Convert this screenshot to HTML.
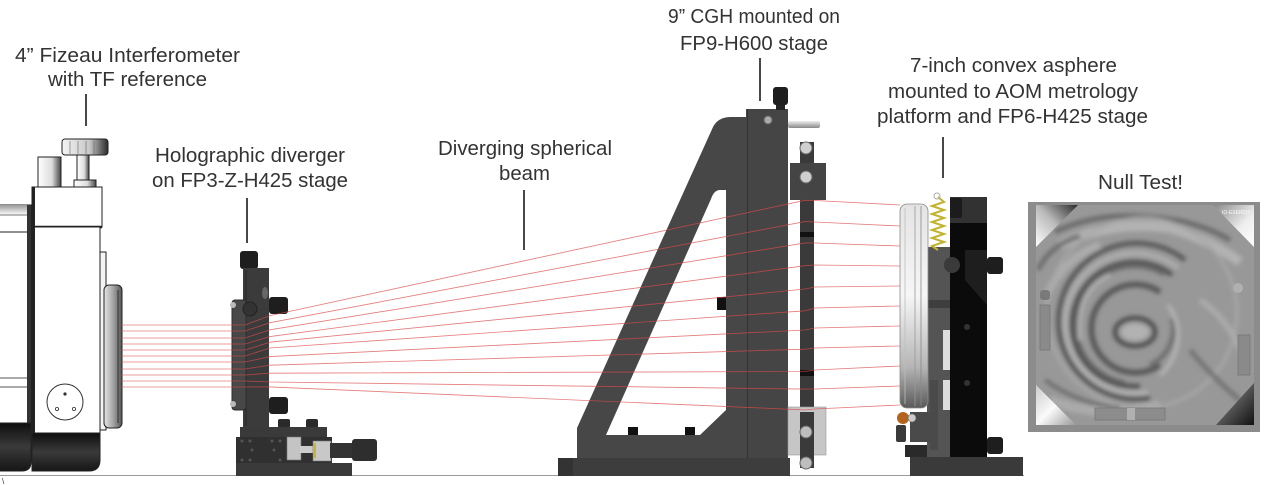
<!DOCTYPE html>
<html><head><meta charset="utf-8">
<style>
html,body{margin:0;padding:0;background:#fff;}
svg{display:block;}
text{font-family:"Liberation Sans",sans-serif;fill:#333;font-size:20.5px;}
</style></head><body>
<svg width="1268" height="485" viewBox="0 0 1268 485" xmlns="http://www.w3.org/2000/svg">
<defs>
<linearGradient id="gKnob" x1="0" y1="0" x2="1" y2="0"><stop offset="0" stop-color="#f4f4f4"/><stop offset="0.6" stop-color="#c8c8c8"/><stop offset="1" stop-color="#2a2a2a"/></linearGradient>
<linearGradient id="gCyl" x1="0" y1="0" x2="1" y2="0"><stop offset="0" stop-color="#fff"/><stop offset="0.6" stop-color="#ddd"/><stop offset="1" stop-color="#444"/></linearGradient>
<linearGradient id="gDarkBot" x1="0" y1="0" x2="0" y2="1"><stop offset="0" stop-color="#0e0e0e"/><stop offset="0.5" stop-color="#3a3a3a"/><stop offset="1" stop-color="#161616"/></linearGradient>
<linearGradient id="gRing" x1="0" y1="0" x2="1" y2="0"><stop offset="0" stop-color="#e6e6e6"/><stop offset="0.5" stop-color="#a5a5a5"/><stop offset="1" stop-color="#555"/></linearGradient>
<linearGradient id="gLeftTop" x1="0" y1="0" x2="0" y2="1"><stop offset="0" stop-color="#999"/><stop offset="1" stop-color="#fff"/></linearGradient>
<linearGradient id="gLens" x1="0" y1="0" x2="0" y2="1"><stop offset="0" stop-color="#e4e4e4"/><stop offset="0.45" stop-color="#f6f6f6"/><stop offset="0.8" stop-color="#b5b5b5"/><stop offset="1" stop-color="#5a5a5a"/></linearGradient>
<linearGradient id="gPin" x1="0" y1="0" x2="0" y2="1"><stop offset="0" stop-color="#eee"/><stop offset="1" stop-color="#888"/></linearGradient>
<linearGradient id="gTL" x1="0" y1="1" x2="1" y2="0"><stop offset="0" stop-color="#fff"/><stop offset="0.5" stop-color="#bbb"/><stop offset="1" stop-color="#2a2a2a"/></linearGradient>
<linearGradient id="gTR" x1="0" y1="0" x2="1" y2="1"><stop offset="0" stop-color="#888"/><stop offset="0.6" stop-color="#eee"/><stop offset="1" stop-color="#fff"/></linearGradient>
<linearGradient id="gBL" x1="0" y1="0" x2="1" y2="1"><stop offset="0" stop-color="#ccc"/><stop offset="0.5" stop-color="#fafafa"/><stop offset="1" stop-color="#999"/></linearGradient>
<linearGradient id="gBR" x1="0" y1="0" x2="1" y2="1"><stop offset="0" stop-color="#eee"/><stop offset="0.5" stop-color="#555"/><stop offset="1" stop-color="#111"/></linearGradient>
<filter id="blur2" x="-10%" y="-10%" width="120%" height="120%"><feGaussianBlur stdDeviation="2"/></filter>
<clipPath id="octClip"><polygon points="1036,205 1254,205 1254,425 1036,425"/></clipPath>
</defs>

<!-- ground line -->
<line x1="0" y1="475.5" x2="1024" y2="475.5" stroke="#9a9a9a" stroke-width="1"/>
<text x="2" y="484" style="font-size:8px">\</text>

<!-- ===== Labels ===== -->
<text x="15" y="62" textLength="225" lengthAdjust="spacingAndGlyphs">4” Fizeau Interferometer</text>
<text x="48" y="86" textLength="159" lengthAdjust="spacingAndGlyphs">with TF reference</text>
<text x="155" y="162" textLength="190" lengthAdjust="spacingAndGlyphs">Holographic diverger</text>
<text x="152" y="187" textLength="196" lengthAdjust="spacingAndGlyphs">on FP3-Z-H425 stage</text>
<text x="438" y="155" textLength="174" lengthAdjust="spacingAndGlyphs">Diverging spherical</text>
<text x="499" y="180" textLength="51" lengthAdjust="spacingAndGlyphs">beam</text>
<text x="668" y="23" textLength="172" lengthAdjust="spacingAndGlyphs">9” CGH mounted on</text>
<text x="680" y="50" textLength="148" lengthAdjust="spacingAndGlyphs">FP9-H600 stage</text>
<text x="910" y="72" textLength="207" lengthAdjust="spacingAndGlyphs">7-inch convex asphere</text>
<text x="888" y="98" textLength="250" lengthAdjust="spacingAndGlyphs">mounted to AOM metrology</text>
<text x="877" y="123" textLength="271" lengthAdjust="spacingAndGlyphs">platform and FP6-H425 stage</text>
<text x="1098" y="189" textLength="85" lengthAdjust="spacingAndGlyphs">Null Test!</text>

<!-- connectors -->
<g stroke="#1a1a1a" stroke-width="1.6">
<line x1="86" y1="94" x2="86" y2="126"/>
<line x1="247" y1="198" x2="247" y2="243"/>
<line x1="524" y1="190" x2="524" y2="250"/>
<line x1="760" y1="58" x2="760" y2="101"/>
<line x1="943" y1="137" x2="943" y2="178"/>
</g>

<!-- ===== Interferometer ===== -->
<g stroke="#222" stroke-width="1">
 <rect x="-2" y="205" width="33" height="230" fill="#fff"/>
 <rect x="-2" y="205" width="33" height="10" fill="url(#gLeftTop)" stroke="none"/>
 <line x1="0" y1="215" x2="30" y2="215" stroke="#777"/>
 <line x1="0" y1="232" x2="30" y2="232"/>
 <line x1="0" y1="378" x2="30" y2="378" stroke="#555"/>
 <line x1="0" y1="387" x2="30" y2="387" stroke="#555"/>
 <rect x="27" y="205" width="4" height="230" fill="#333" stroke="none"/>
 <path d="M-2 423 H31 V462 Q31 471 22 471 H-2 Z" fill="url(#gDarkBot)"/>
 <rect x="38" y="157" width="23" height="31" fill="url(#gCyl)"/>
 <rect x="77" y="155" width="12" height="25" fill="url(#gCyl)"/>
 <rect x="74" y="180" width="22" height="8" fill="url(#gCyl)"/>
 <rect x="62" y="139" width="46" height="16" rx="3" fill="url(#gKnob)"/>
 <g stroke="#666" stroke-width="0.6">
  <line x1="70" y1="141" x2="70" y2="154"/><line x1="78" y1="141" x2="78" y2="154"/><line x1="86" y1="141" x2="86" y2="154"/><line x1="94" y1="141" x2="94" y2="154"/><line x1="101" y1="141" x2="101" y2="154"/>
 </g>
 <rect x="32" y="187" width="70" height="40" fill="#fff"/>
 <line x1="32" y1="227" x2="102" y2="227" stroke-width="2.5"/>
 <rect x="32" y="227" width="68" height="206" fill="#fff"/>
 <rect x="32" y="187" width="3" height="246" fill="#222" stroke="none"/>
 <path d="M32 433 H100 V460 Q100 471 89 471 H32 Z" fill="url(#gDarkBot)"/>
 <rect x="100" y="252" width="6" height="178" fill="#f4f4f4"/>
 <rect x="104" y="285" width="18" height="143" rx="5" fill="url(#gRing)"/>
 <line x1="118" y1="290" x2="118" y2="423" stroke="#333" stroke-width="1"/>
 <circle cx="65" cy="402" r="18" fill="none" stroke="#333"/>
 <circle cx="65" cy="394" r="1.6" fill="#333" stroke="none"/>
 <circle cx="57" cy="409" r="1.6" fill="none" stroke="#333" stroke-width="0.8"/>
 <circle cx="74" cy="409" r="1.6" fill="none" stroke="#333" stroke-width="0.8"/>
</g>

<!-- ===== Holographic diverger ===== -->
<g>
 <rect x="240" y="251" width="18" height="18" rx="3" fill="#1e1e1e"/>
 <rect x="243" y="268" width="26" height="160" fill="#3b3b3b"/>
 <line x1="246" y1="270" x2="246" y2="426" stroke="#2a2a2a"/>
 <ellipse cx="265" cy="293" rx="3" ry="6" fill="#666"/>
 <rect x="232" y="300" width="14" height="110" rx="3" fill="#484848" stroke="#2e2e2e"/>
 <circle cx="233" cy="305" r="3" fill="#bbb"/>
 <circle cx="233" cy="404" r="3" fill="#bbb"/>
 <circle cx="250" cy="309" r="7" fill="#333" stroke="#222"/>
 <rect x="269" y="297" width="19" height="17" rx="3" fill="#1e1e1e"/>
 <rect x="269" y="397" width="19" height="17" rx="3" fill="#1e1e1e"/>
 <rect x="278" y="419" width="12" height="9" rx="2" fill="#2a2a2a"/>
 <rect x="306" y="419" width="12" height="9" rx="2" fill="#2a2a2a"/>
 <rect x="240" y="427" width="87" height="10" fill="#3a3a3a"/>
 <rect x="236" y="437" width="96" height="26" fill="#303030"/>
 <g fill="#555"><circle cx="242" cy="441" r="1.5"/><circle cx="250" cy="441" r="1.5"/><circle cx="272" cy="441" r="1.5"/><circle cx="280" cy="441" r="1.5"/><circle cx="252" cy="450" r="1.5"/><circle cx="274" cy="450" r="1.5"/><circle cx="242" cy="460" r="1.5"/><circle cx="250" cy="460" r="1.5"/><circle cx="280" cy="460" r="1.5"/></g>
 <rect x="287" y="437" width="14" height="23" fill="#c4c4c4" stroke="#777" stroke-width="0.6"/>
 <rect x="300" y="446" width="14" height="7" fill="#ccc"/>
 <rect x="313" y="441" width="18" height="20" fill="#c8c8c8" stroke="#777" stroke-width="0.6"/>
 <rect x="313" y="443" width="3" height="15" fill="#c9b13a"/>
 <rect x="330" y="443" width="28" height="15" fill="#333"/>
 <rect x="352" y="439" width="25" height="22" rx="3" fill="#2e2e2e"/>
 <rect x="236" y="463" width="116" height="13" fill="#3a3a3a"/>
</g>

<!-- ===== CGH stage ===== -->
<g>
 <rect x="558" y="458" width="232" height="18" fill="#3d3d3d"/>
 <rect x="558" y="458" width="15" height="18" fill="#333"/>
 <path d="M577 458 L577 428 L713 127 Q718 117 731 117 L747 117 L747 458 Z" fill="#474747"/>
 <path d="M606 435 L711 199 Q714 190 720 190 L726 190 L726 410 L700 435 Z" fill="#fff"/>
 <rect x="628" y="427" width="10" height="8" fill="#111"/>
 <rect x="685" y="427" width="10" height="8" fill="#111"/>
 <rect x="717" y="297" width="9" height="13" fill="#111"/>
 <rect x="746" y="109" width="42" height="349" fill="#454545"/>
 <line x1="747.5" y1="110" x2="747.5" y2="458" stroke="#333"/>
 <circle cx="768" cy="120" r="4" fill="#aaa" stroke="#666"/>
 <rect x="776" y="104" width="9" height="6" fill="#222"/>
 <rect x="773" y="87" width="15" height="18" rx="3" fill="#1e1e1e"/>
 <rect x="788" y="121" width="32" height="7" rx="2" fill="url(#gPin)"/>
 <rect x="800" y="142" width="14" height="326" fill="#3a3a3a"/>
 <rect x="790" y="163" width="36" height="37" fill="#444"/>
 <rect x="800" y="232" width="14" height="5" fill="#111"/>
 <rect x="800" y="370" width="14" height="6" fill="#111"/>
 <rect x="788" y="407" width="38" height="48" fill="#c6c6c6" stroke="#999" stroke-width="0.6"/>
 <rect x="800" y="412" width="14" height="56" fill="#3a3a3a"/>
 <circle cx="806" cy="148" r="6" fill="#cfcfcf" stroke="#666"/>
 <circle cx="806" cy="177" r="6" fill="#cfcfcf" stroke="#666"/>
 <circle cx="806" cy="432" r="6" fill="#bdbdbd" stroke="#666"/>
 <circle cx="806" cy="463" r="6" fill="#bdbdbd" stroke="#666"/>
</g>

<!-- ===== Red beams ===== -->
<g stroke="#dc4a4a" stroke-width="0.85" opacity="0.72" fill="none">
 <path d="M121 325 L245 325 L270 315.6 L805 200.3 L815 200.5 L900 205"/>
 <path d="M121 331 L245 331 L270 322.7 L805 221.6 L815 222 L900 226"/>
 <path d="M121 338 L245 338 L270 329.8 L805 242.9 L815 243 L900 246"/>
 <path d="M121 344 L245 344 L270 336.6 L805 265.7 L815 265 L900 266"/>
 <path d="M121 350 L245 350 L270 342.2 L805 289 L815 287 L900 286"/>
 <path d="M121 356 L245 356 L270 348 L805 310.8 L815 308 L900 306"/>
 <path d="M121 362 L245 362 L270 356.6 L805 330 L815 328 L900 326"/>
 <path d="M121 369 L245 369 L270 365.2 L805 349.2 L815 348 L900 346"/>
 <path d="M121 375 L245 375 L270 373.2 L805 371.5 L815 370 L900 366"/>
 <path d="M121 381 L245 381 L270 382 L805 389.1 L815 389 L900 386"/>
 <path d="M121 387 L245 387 L270 386.9 L805 409.9 L815 409 L900 405"/>
</g>

<!-- ===== Asphere assembly ===== -->
<g>
 <rect x="910" y="457" width="113" height="19" fill="#3a3a3a"/>
 <rect x="927" y="247" width="23" height="210" fill="#545454"/>
 <rect x="927" y="300" width="23" height="8" fill="#3e3e3e"/>
 <rect x="943" y="330" width="7" height="40" fill="#ddd"/>
 <rect x="943" y="380" width="7" height="30" fill="#ddd"/>
 <rect x="930" y="380" width="8" height="70" fill="#4a4a4a"/>
 <rect x="900" y="204" width="28" height="204" rx="7" fill="url(#gLens)" stroke="#8a8a8a" stroke-width="0.8"/>
 <line x1="905" y1="208" x2="905" y2="404" stroke="#bdbdbd" stroke-width="0.8"/>
 <line x1="915" y1="206" x2="915" y2="406" stroke="#999" stroke-width="0.8"/>
 <line x1="921" y1="206" x2="921" y2="406" stroke="#888" stroke-width="0.8"/>
 <path d="M938 197 L944 202 L932 206 L944 210 L932 214 L944 218 L932 222 L944 226 L932 230 L944 234 L932 238 L944 242 L932 246 L938 250" fill="none" stroke="#c2b32e" stroke-width="2"/>
 <circle cx="937" cy="196" r="3" fill="none" stroke="#aaa" stroke-width="1"/>
 <rect x="950" y="197" width="37" height="260" fill="#0b0b0b"/>
 <rect x="950" y="197" width="37" height="26" fill="#323232"/>
 <rect x="950" y="198" width="12" height="20" rx="2" fill="#1c1c1c"/>
 <path d="M965 250 L987 250 L987 305 L965 280 Z" fill="#1e1e1e"/>
 <circle cx="952" cy="265" r="8" fill="#3a3a3a"/>
 <circle cx="967" cy="327" r="3" fill="#333"/>
 <circle cx="967" cy="383" r="3" fill="#333"/>
 <rect x="987" y="257" width="16" height="17" rx="3" fill="#1e1e1e"/>
 <rect x="987" y="437" width="16" height="17" rx="3" fill="#1e1e1e"/>
 <rect x="910" y="412" width="20" height="30" fill="#4a4a4a"/>
 <circle cx="903" cy="418" r="6" fill="#b4621c"/>
 <circle cx="912" cy="418" r="4" fill="#ccc" stroke="#666" stroke-width="0.6"/>
 <rect x="896" y="425" width="10" height="17" rx="2" fill="#3a3a3a"/>
 <rect x="905" y="445" width="22" height="12" fill="#2a2a2a"/>
</g>

<!-- ===== Null test image ===== -->
<g>
 <rect x="1028" y="202" width="232" height="230" fill="#8c8c8c"/>
 <rect x="1036" y="205" width="218" height="220" fill="#989898"/>
 <g clip-path="url(#octClip)">
  <g filter="url(#blur2)" fill="none">
   <path d="M1060 245 Q1110 220 1170 228 Q1210 240 1240 262" stroke="#b2b2b2" stroke-width="10"/>
   <path d="M1045 300 Q1060 260 1100 245" stroke="#acacac" stroke-width="8"/>
   <path d="M1050 400 Q1100 420 1160 405" stroke="#aaaaaa" stroke-width="10"/>
   <path d="M1055 232 Q1100 210 1160 218 Q1200 222 1230 240" stroke="#6a6a6a" stroke-width="5"/>
   <path d="M1038 270 Q1050 245 1080 236" stroke="#6e6e6e" stroke-width="5"/>
   <circle cx="1142" cy="313" r="95" stroke="#a8a8a8" stroke-width="3"/>
   <path d="M1185 260 A78 78 0 1 0 1150 398" stroke="#5a5a5a" stroke-width="5"/>
   <path d="M1178 268 A70 70 0 1 0 1148 392" stroke="#b8b8b8" stroke-width="3"/>
   <path d="M1172 275 A62 62 0 1 0 1140 386" stroke="#555" stroke-width="5"/>
   <path d="M1164 275 A58 58 0 1 0 1125 382" stroke="#666" stroke-width="3"/>
   <path d="M1160 292 A44 44 0 1 0 1160 365" stroke="#5a5a5a" stroke-width="6"/>
   <path d="M1172 318 A40 40 0 0 1 1150 365" stroke="#707070" stroke-width="5"/>
   <path d="M1168 305 A52 52 0 0 1 1160 375" stroke="#b4b4b4" stroke-width="4"/>
   <ellipse cx="1135" cy="332" rx="14" ry="8" fill="#b2b2b2" stroke="none"/>
   <ellipse cx="1135" cy="332" rx="20" ry="14" stroke="#525252" stroke-width="5"/>
   <path d="M1080 340 Q1075 290 1110 275" stroke="#b0b0b0" stroke-width="4"/>
   <path d="M1190 350 Q1215 380 1240 400" stroke="#757575" stroke-width="5"/>
   <path d="M1045 380 Q1080 405 1120 408" stroke="#6e6e6e" stroke-width="4"/>
   <path d="M1200 300 Q1230 320 1245 360" stroke="#aaaaaa" stroke-width="6"/>
  </g>
 </g>
 <rect x="1040" y="290" width="10" height="10" rx="3" fill="#7a7a7a"/>
 <rect x="1040" y="305" width="10" height="45" fill="#8a8a8a" stroke="#777" stroke-width="0.8"/>
 <circle cx="1238" cy="288" r="5" fill="#b0b0b0"/>
 <rect x="1238" y="335" width="12" height="40" fill="#8a8a8a" stroke="#777" stroke-width="0.8"/>
 <rect x="1095" y="408" width="70" height="12" fill="#8c8c8c" stroke="#777" stroke-width="0.8"/>
 <rect x="1127" y="408" width="8" height="12" fill="#b0b0b0"/>
 <polygon points="1036,205 1078,205 1036,247" fill="url(#gTL)"/>
 <polygon points="1213,205 1254,205 1254,247" fill="url(#gTR)"/>
 <polygon points="1036,385 1036,425 1076,425" fill="url(#gBL)"/>
 <polygon points="1254,383 1254,425 1216,425" fill="url(#gBR)"/>
 <text x="1222" y="214" style="font-size:5px;fill:#fff">IO-EXERCH</text>
</g>
</svg>
</body></html>
